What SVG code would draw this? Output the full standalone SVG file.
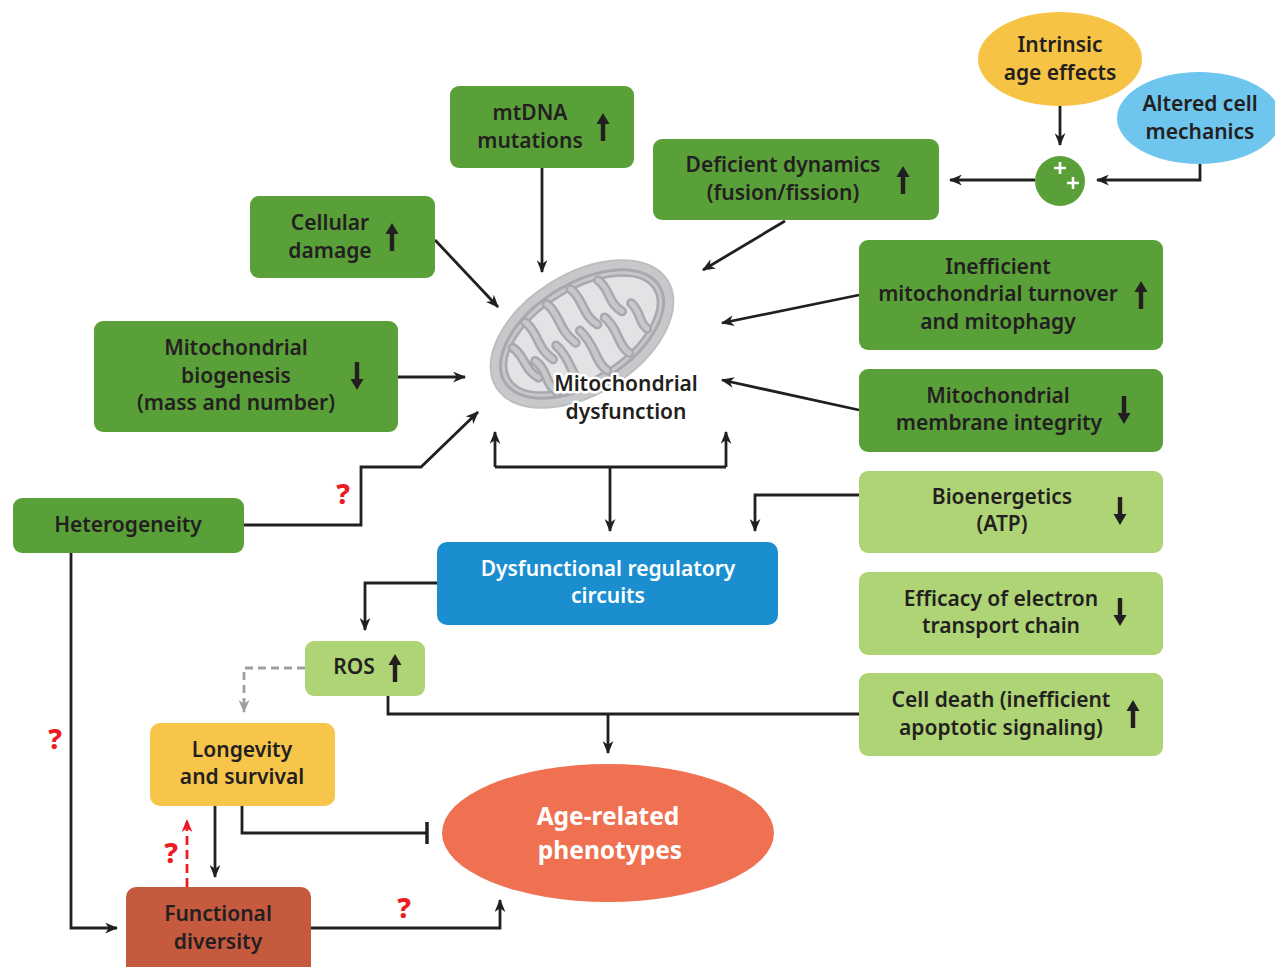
<svg xmlns="http://www.w3.org/2000/svg" width="1275" height="967" viewBox="0 0 1275 967">
<style>
.t{font-family:"Noto Sans","Open Sans","Liberation Sans",sans-serif;font-weight:600;font-size:21px;fill:#231f20;text-anchor:middle}
.w{fill:#ffffff}
.q{font-family:"Noto Sans","Liberation Sans",sans-serif;font-weight:800;font-size:28px;fill:#ed1c24;text-anchor:middle}
.dg{fill:#5aa039}
.lg{fill:#aed475}
.c{fill:none;stroke:#231f20;stroke-width:2.8}
.ba{fill:#231f20}
.halo{paint-order:stroke;stroke:#ffffff;stroke-width:5px;stroke-linejoin:round}
</style>
<defs>
<marker id="ah" viewBox="0 0 12 10" refX="11" refY="5" markerWidth="13" markerHeight="11" markerUnits="userSpaceOnUse" orient="auto"><path d="M0,0 L12,5 L0,10 L3.5,5 z" fill="#231f20"/></marker>
<marker id="ahg" viewBox="0 0 12 10" refX="11" refY="5" markerWidth="13" markerHeight="11" markerUnits="userSpaceOnUse" orient="auto"><path d="M0,0 L12,5 L0,10 L3.5,5 z" fill="#9d9fa2"/></marker>
<marker id="ahr" viewBox="0 0 12 10" refX="11" refY="5" markerWidth="13" markerHeight="11" markerUnits="userSpaceOnUse" orient="auto"><path d="M0,0 L12,5 L0,10 L3.5,5 z" fill="#ed1c24"/></marker>
<path id="up" d="M0,-14 L6.5,-3 L2.2,-3 L2.2,14 L-2.2,14 L-2.2,-3 L-6.5,-3 z"/>
<path id="dn" d="M0,14 L6.5,3 L2.2,3 L2.2,-14 L-2.2,-14 L-2.2,3 L-6.5,3 z"/>
</defs>
<rect width="1275" height="967" fill="#ffffff"/>

<g id="connectors">
<path class="c" d="M542,168 V272" marker-end="url(#ah)"/>
<path class="c" d="M435,240 L498,307" marker-end="url(#ah)"/>
<path class="c" d="M785,221 L703,270" marker-end="url(#ah)"/>
<path class="c" d="M859,295 L722,323" marker-end="url(#ah)"/>
<path class="c" d="M859,410 L722,380" marker-end="url(#ah)"/>
<path class="c" d="M398,377 H465" marker-end="url(#ah)"/>
<path class="c" d="M244,525 H361 V467 H421 L478,412" marker-end="url(#ah)"/>
<path class="c" d="M495,467 H726"/>
<path class="c" d="M495,467 V432" marker-end="url(#ah)"/>
<path class="c" d="M726,467 V432" marker-end="url(#ah)"/>
<path class="c" d="M610,467 V531" marker-end="url(#ah)"/>
<path class="c" d="M859,495 H755 V531" marker-end="url(#ah)"/>
<path class="c" d="M1060,106 V145" marker-end="url(#ah)"/>
<path class="c" d="M1200,164 V180 H1097" marker-end="url(#ah)"/>
<path class="c" d="M1035,180 H950" marker-end="url(#ah)"/>
<path class="c" d="M437,583 H365 V630" marker-end="url(#ah)"/>
<path d="M305,668 H244 V712" fill="none" stroke="#9d9fa2" stroke-width="2.8" stroke-dasharray="8,5" marker-end="url(#ahg)"/>
<path class="c" d="M388,696 V714 H859"/>
<path class="c" d="M608,714 V753" marker-end="url(#ah)"/>
<path class="c" d="M71,553 V928 H117" marker-end="url(#ah)"/>
<path class="c" d="M215,806 V877" marker-end="url(#ah)"/>
<path class="c" d="M242,806 V833 H427"/>
<path d="M427,822 V844" stroke="#231f20" stroke-width="3.5"/>
<path d="M187,887 V820" fill="none" stroke="#ed1c24" stroke-width="2.8" stroke-dasharray="9,5" marker-end="url(#ahr)"/>
<path class="c" d="M311,928 H500 V900" marker-end="url(#ah)"/>
<text class="q" x="343" y="504">?</text>
<text class="q" x="55" y="749">?</text>
<text class="q" x="171" y="863">?</text>
<text class="q" x="404" y="918">?</text>
</g>

<g id="mitochondrion">
<g transform="translate(582,334) rotate(-32)">
<ellipse rx="101" ry="60" fill="#c7c8ca" stroke="#bcbec0" stroke-width="2"/>
<ellipse rx="91" ry="50" fill="none" stroke="#a7a9ac" stroke-width="3"/>
<ellipse rx="85" ry="44" fill="#e2e3e4" stroke="#a7a9ac" stroke-width="2.5"/>
<g fill="none" stroke-linecap="round">
<path id="cr" d="M-66,-25 C-60,-12 -68,0 -60,14 M-42,-40 C-36,-25 -46,-12 -38,6 M-14,-44 C-8,-30 -18,-16 -10,4 M14,-44 C20,-30 10,-16 18,0 M42,-37 C48,-24 38,-12 46,2 M-52,36 C-58,22 -48,12 -54,-2 M-26,43 C-32,28 -22,16 -28,-4 M2,44 C-4,30 6,18 0,-4 M30,41 C24,28 34,16 28,-2 M58,30 C54,20 62,12 58,0" stroke="#a7a9ac" stroke-width="10"/>
<path d="M-66,-25 C-60,-12 -68,0 -60,14 M-42,-40 C-36,-25 -46,-12 -38,6 M-14,-44 C-8,-30 -18,-16 -10,4 M14,-44 C20,-30 10,-16 18,0 M42,-37 C48,-24 38,-12 46,2 M-52,36 C-58,22 -48,12 -54,-2 M-26,43 C-32,28 -22,16 -28,-4 M2,44 C-4,30 6,18 0,-4 M30,41 C24,28 34,16 28,-2 M58,30 C54,20 62,12 58,0" stroke="#c7c8ca" stroke-width="5"/>
</g>
</g>
<text class="t halo" x="626" y="391">Mitochondrial</text>
<text class="t halo" x="626" y="419">dysfunction</text>
</g>

<g id="mtdna">
<rect class="dg" x="450" y="86" width="184" height="82" rx="9"/>
<text class="t" x="530" y="120">mtDNA</text>
<text class="t" x="530" y="148">mutations</text>
<use href="#up" class="ba" x="603" y="127"/>
</g>

<g id="cellular-damage">
<rect class="dg" x="250" y="196" width="185" height="82" rx="9"/>
<text class="t" x="330" y="230">Cellular</text>
<text class="t" x="330" y="258">damage</text>
<use href="#up" class="ba" x="392" y="237"/>
</g>

<g id="deficient-dynamics">
<rect class="dg" x="653" y="139" width="286" height="81" rx="9"/>
<text class="t" x="783" y="172">Deficient dynamics</text>
<text class="t" x="783" y="200">(fusion/fission)</text>
<use href="#up" class="ba" x="903" y="180"/>
</g>

<g id="intrinsic">
<ellipse cx="1060" cy="59" rx="82" ry="47" fill="#f6c345"/>
<text class="t" x="1060" y="52">Intrinsic</text>
<text class="t" x="1060" y="80">age effects</text>
</g>

<g id="altered">
<ellipse cx="1199" cy="118" rx="82" ry="46" fill="#6ec6ee"/>
<text class="t" x="1200" y="111">Altered cell</text>
<text class="t" x="1200" y="139">mechanics</text>
</g>

<g id="plus">
<circle cx="1060" cy="181" r="25" fill="#5aa039"/>
<path d="M1054,168 H1066 M1060,162 V174 M1067,183 H1079 M1073,177 V189" stroke="#ffffff" stroke-width="2.6"/>
</g>

<g id="turnover">
<rect class="dg" x="859" y="240" width="304" height="110" rx="9"/>
<text class="t" x="998" y="274">Inefficient</text>
<text class="t" x="998" y="301">mitochondrial turnover</text>
<text class="t" x="998" y="329">and mitophagy</text>
<use href="#up" class="ba" x="1141" y="295"/>
</g>

<g id="membrane">
<rect class="dg" x="859" y="369" width="304" height="83" rx="9"/>
<text class="t" x="998" y="403">Mitochondrial</text>
<text class="t" x="999" y="430">membrane integrity</text>
<use href="#dn" class="ba" x="1124" y="410"/>
</g>

<g id="bioenergetics">
<rect class="lg" x="859" y="471" width="304" height="82" rx="9"/>
<text class="t" x="1002" y="504">Bioenergetics</text>
<text class="t" x="1002" y="531">(ATP)</text>
<use href="#dn" class="ba" x="1120" y="511"/>
</g>

<g id="etc">
<rect class="lg" x="859" y="572" width="304" height="83" rx="9"/>
<text class="t" x="1001" y="606">Efficacy of electron</text>
<text class="t" x="1001" y="633">transport chain</text>
<use href="#dn" class="ba" x="1120" y="612"/>
</g>

<g id="cell-death">
<rect class="lg" x="859" y="673" width="304" height="83" rx="9"/>
<text class="t" x="1001" y="707">Cell death (inefficient</text>
<text class="t" x="1001" y="735">apoptotic signaling)</text>
<use href="#up" class="ba" x="1133" y="714"/>
</g>

<g id="biogenesis">
<rect class="dg" x="94" y="321" width="304" height="111" rx="9"/>
<text class="t" x="236" y="355">Mitochondrial</text>
<text class="t" x="236" y="383">biogenesis</text>
<text class="t" x="236" y="410">(mass and number)</text>
<use href="#dn" class="ba" x="357" y="376"/>
</g>

<g id="heterogeneity">
<rect class="dg" x="13" y="498" width="231" height="55" rx="9"/>
<text class="t" x="128" y="532">Heterogeneity</text>
</g>

<g id="regulatory">
<rect x="437" y="542" width="341" height="83" rx="10" fill="#1a8ecf"/>
<text class="t w" x="608" y="576">Dysfunctional regulatory</text>
<text class="t w" x="608" y="603">circuits</text>
</g>

<g id="ros">
<rect class="lg" x="305" y="641" width="120" height="55" rx="9"/>
<text class="t" x="354" y="674">ROS</text>
<use href="#up" class="ba" x="395" y="668"/>
</g>

<g id="longevity">
<rect x="150" y="723" width="185" height="83" rx="10" fill="#f6c54a"/>
<text class="t" x="242" y="757">Longevity</text>
<text class="t" x="242" y="784">and survival</text>
</g>

<g id="functional-diversity">
<rect x="126" y="887" width="185" height="90" rx="10" fill="#c65a3e"/>
<text class="t" x="218" y="921">Functional</text>
<text class="t" x="218" y="949">diversity</text>
</g>

<g id="phenotypes">
<ellipse cx="608" cy="833" rx="166" ry="69" fill="#f07152"/>
<text class="t w" x="608" y="825" style="font-size:24.5px;font-weight:700">Age-related</text>
<text class="t w" x="610" y="859" style="font-size:24.5px;font-weight:700">phenotypes</text>
</g>
</svg>
